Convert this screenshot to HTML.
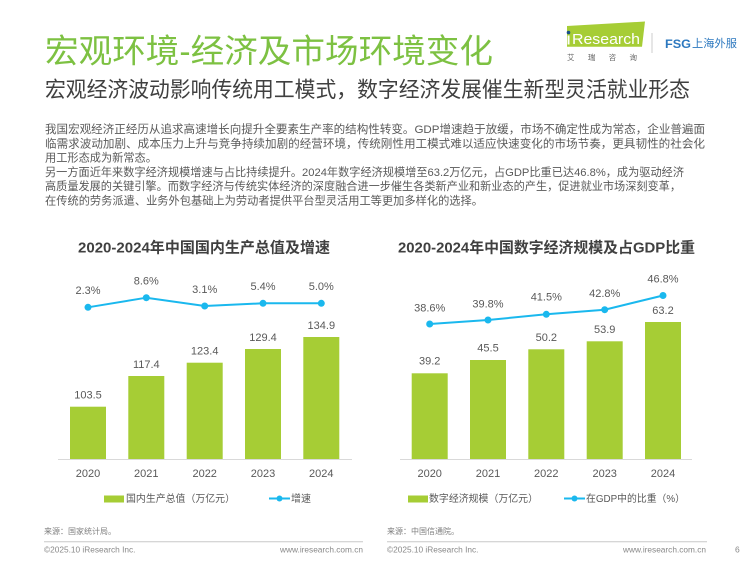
<!DOCTYPE html>
<html>
<head>
<meta charset="utf-8">
<style>
  html,body{margin:0;padding:0;background:#fff;}
  body{width:750px;height:563px;overflow:hidden;}
  svg{display:block;}
  text{font-family:"Liberation Sans","Noto Sans CJK SC",sans-serif;}
</style>
</head>
<body>
<svg width="750" height="563" viewBox="0 0 750 563" xmlns="http://www.w3.org/2000/svg">
  <rect width="750" height="563" fill="#ffffff"/>

  <!-- Header -->
  <text x="45" y="51" font-size="33" fill="#7dc142" dominant-baseline="central" textLength="448" lengthAdjust="spacingAndGlyphs">宏观环境-经济及市场环境变化</text>
  <text x="45" y="90" font-size="21.5" fill="#404040" dominant-baseline="central" textLength="645" lengthAdjust="spacingAndGlyphs">宏观经济波动影响传统用工模式，数字经济发展催生新型灵活就业形态</text>

  <!-- Logo iResearch -->
  <polygon points="567,26 645,21.5 642,46.7 567,46.7" fill="#a6cd35"/>
  <circle cx="568.5" cy="32.5" r="1.8" fill="#1a4f8a"/>
  <rect x="567.6" y="35.5" width="1.9" height="9" fill="#ffffff"/>
  <text x="572" y="44" font-size="15" fill="#ffffff" textLength="68" lengthAdjust="spacingAndGlyphs">Research</text>
  <text x="567" y="57.5" font-size="7.5" fill="#666" dominant-baseline="central" textLength="70" lengthAdjust="spacing">艾瑞咨询</text>
  <line x1="652" y1="33" x2="652" y2="53" stroke="#cccccc" stroke-width="1"/>
  <text x="665" y="44" font-size="12" font-weight="bold" fill="#2c78bf" dominant-baseline="central" textLength="26" lengthAdjust="spacingAndGlyphs">FSG</text>
  <text x="692" y="44" font-size="11" fill="#2c78bf" dominant-baseline="central" textLength="45" lengthAdjust="spacingAndGlyphs">上海外服</text>

  <!-- Body text -->
  <g font-size="11.2" fill="#595959">
    <text x="45" y="130" dominant-baseline="central" textLength="660" lengthAdjust="spacingAndGlyphs">我国宏观经济正经历从追求高速增长向提升全要素生产率的结构性转变。GDP增速趋于放缓，市场不确定性成为常态，企业普遍面</text>
    <text x="45" y="144.3" dominant-baseline="central" textLength="660" lengthAdjust="spacingAndGlyphs">临需求波动加剧、成本压力上升与竞争持续加剧的经营环境，传统刚性用工模式难以适应快速变化的市场节奏，更具韧性的社会化</text>
    <text x="45" y="158.6" dominant-baseline="central">用工形态成为新常态。</text>
    <text x="45" y="172.9" dominant-baseline="central" textLength="639" lengthAdjust="spacingAndGlyphs">另一方面近年来数字经济规模增速与占比持续提升。2024年数字经济规模增至63.2万亿元，占GDP比重已达46.8%，成为驱动经济</text>
    <text x="45" y="187.2" dominant-baseline="central" textLength="636" lengthAdjust="spacingAndGlyphs">高质量发展的关键引擎。而数字经济与传统实体经济的深度融合进一步催生各类新产业和新业态的产生，促进就业市场深刻变革，</text>
    <text x="45" y="201.5" dominant-baseline="central" textLength="438" lengthAdjust="spacingAndGlyphs">在传统的劳务派遣、业务外包基础上为劳动者提供平台型灵活用工等更加多样化的选择。</text>
  </g>

  <!-- ===== Left chart ===== -->
  <text x="204" y="248" font-size="15" font-weight="bold" fill="#404040" text-anchor="middle" dominant-baseline="central" textLength="252" lengthAdjust="spacingAndGlyphs">2020-2024年中国国内生产总值及增速</text>

  <g fill="#a6cd35">
    <rect x="70" y="406.7" width="36" height="52.8"/>
    <rect x="128.3" y="376" width="36" height="83.5"/>
    <rect x="186.7" y="362.7" width="36" height="96.8"/>
    <rect x="245" y="349" width="36" height="110.5"/>
    <rect x="303.3" y="337" width="36" height="122.5"/>
  </g>
  <line x1="58" y1="459.5" x2="352" y2="459.5" stroke="#d9d9d9" stroke-width="1"/>

  <g font-size="11" fill="#595959" text-anchor="middle" dominant-baseline="central">
    <text x="88" y="395.7">103.5</text>
    <text x="146.3" y="365">117.4</text>
    <text x="204.7" y="351.7">123.4</text>
    <text x="263" y="338">129.4</text>
    <text x="321.3" y="326">134.9</text>

    <text x="88" y="291">2.3%</text>
    <text x="146.3" y="281.7">8.6%</text>
    <text x="204.7" y="290">3.1%</text>
    <text x="263" y="287">5.4%</text>
    <text x="321.3" y="287">5.0%</text>

    <text x="88" y="474">2020</text>
    <text x="146.3" y="474">2021</text>
    <text x="204.7" y="474">2022</text>
    <text x="263" y="474">2023</text>
    <text x="321.3" y="474">2024</text>
  </g>

  <polyline points="88,307.3 146.3,297.7 204.7,306 263,303.3 321.3,303.3" fill="none" stroke="#1ab8ee" stroke-width="2"/>
  <g fill="#1ab8ee">
    <circle cx="88" cy="307.3" r="3.5"/>
    <circle cx="146.3" cy="297.7" r="3.5"/>
    <circle cx="204.7" cy="306" r="3.5"/>
    <circle cx="263" cy="303.3" r="3.5"/>
    <circle cx="321.3" cy="303.3" r="3.5"/>
  </g>

  <!-- left legend -->
  <rect x="104" y="495.5" width="20" height="7" fill="#a6cd35"/>
  <text x="126" y="499.3" font-size="10" fill="#595959" dominant-baseline="central" textLength="109" lengthAdjust="spacingAndGlyphs">国内生产总值（万亿元）</text>
  <line x1="269" y1="498.5" x2="290" y2="498.5" stroke="#1ab8ee" stroke-width="2"/>
  <circle cx="279.5" cy="498.5" r="3" fill="#1ab8ee"/>
  <text x="291" y="499.3" font-size="10" fill="#595959" dominant-baseline="central">增速</text>

  <!-- left footer -->
  <text x="44" y="531.7" font-size="8" fill="#7f7f7f" dominant-baseline="central">来源：国家统计局。</text>
  <line x1="44" y1="541.7" x2="363" y2="541.7" stroke="#c8c8c8" stroke-width="1"/>
  <text x="44" y="549.5" font-size="8.3" fill="#888" dominant-baseline="central">©2025.10 iResearch Inc.</text>
  <text x="363" y="549.5" font-size="8.3" fill="#888" text-anchor="end" dominant-baseline="central">www.iresearch.com.cn</text>

  <!-- ===== Right chart ===== -->
  <text x="546.5" y="248" font-size="15" font-weight="bold" fill="#404040" text-anchor="middle" dominant-baseline="central" textLength="297" lengthAdjust="spacingAndGlyphs">2020-2024年中国数字经济规模及占GDP比重</text>

  <g fill="#a6cd35">
    <rect x="411.7" y="373.3" width="36" height="86.2"/>
    <rect x="470" y="360" width="36" height="99.5"/>
    <rect x="528.3" y="349.3" width="36" height="110.2"/>
    <rect x="586.7" y="341.3" width="36" height="118.2"/>
    <rect x="645" y="322" width="36" height="137.5"/>
  </g>
  <line x1="400" y1="459.5" x2="692" y2="459.5" stroke="#d9d9d9" stroke-width="1"/>

  <g font-size="11" fill="#595959" text-anchor="middle" dominant-baseline="central">
    <text x="429.7" y="361.7">39.2</text>
    <text x="488" y="348.5">45.5</text>
    <text x="546.3" y="338">50.2</text>
    <text x="604.7" y="330">53.9</text>
    <text x="663" y="311">63.2</text>

    <text x="429.7" y="308.3">38.6%</text>
    <text x="488" y="304.3">39.8%</text>
    <text x="546.3" y="297.7">41.5%</text>
    <text x="604.7" y="294">42.8%</text>
    <text x="663" y="279.5">46.8%</text>

    <text x="429.7" y="474">2020</text>
    <text x="488" y="474">2021</text>
    <text x="546.3" y="474">2022</text>
    <text x="604.7" y="474">2023</text>
    <text x="663" y="474">2024</text>
  </g>

  <polyline points="429.7,324 488,320 546.3,314.3 604.7,309.7 663,295.5" fill="none" stroke="#1ab8ee" stroke-width="2"/>
  <g fill="#1ab8ee">
    <circle cx="429.7" cy="324" r="3.5"/>
    <circle cx="488" cy="320" r="3.5"/>
    <circle cx="546.3" cy="314.3" r="3.5"/>
    <circle cx="604.7" cy="309.7" r="3.5"/>
    <circle cx="663" cy="295.5" r="3.5"/>
  </g>

  <!-- right legend -->
  <rect x="408" y="495.5" width="20" height="7" fill="#a6cd35"/>
  <text x="429" y="499.3" font-size="10" fill="#595959" dominant-baseline="central" textLength="109" lengthAdjust="spacingAndGlyphs">数字经济规模（万亿元）</text>
  <line x1="564" y1="498.5" x2="585" y2="498.5" stroke="#1ab8ee" stroke-width="2"/>
  <circle cx="574.5" cy="498.5" r="3" fill="#1ab8ee"/>
  <text x="586" y="499.3" font-size="10" fill="#595959" dominant-baseline="central" textLength="99" lengthAdjust="spacingAndGlyphs">在GDP中的比重（%）</text>

  <!-- right footer -->
  <text x="387" y="531.7" font-size="8" fill="#7f7f7f" dominant-baseline="central">来源：中国信通院。</text>
  <line x1="387" y1="541.7" x2="707" y2="541.7" stroke="#c8c8c8" stroke-width="1"/>
  <text x="387" y="549.5" font-size="8.3" fill="#888" dominant-baseline="central">©2025.10 iResearch Inc.</text>
  <text x="706" y="549.5" font-size="8.3" fill="#888" text-anchor="end" dominant-baseline="central">www.iresearch.com.cn</text>
  <text x="735" y="549.5" font-size="8.5" fill="#888" dominant-baseline="central">6</text>
</svg>
</body>
</html>
